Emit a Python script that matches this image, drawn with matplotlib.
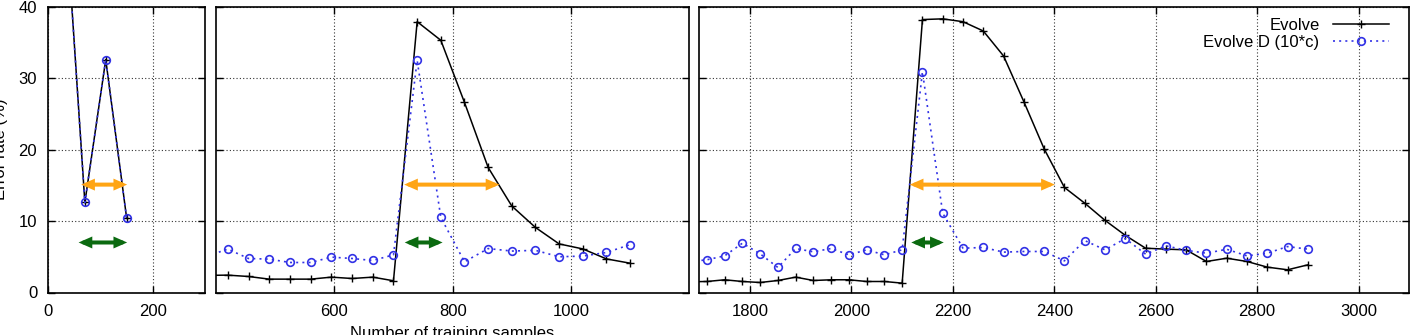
import matplotlib
matplotlib.use("Agg")
import matplotlib.pyplot as plt

plt.rcParams['font.family'] = ['Liberation Sans', 'DejaVu Sans']

# panel 1 (0-300)
x1 = [30, 70, 110, 150]
evolve1 = [56.6, 12.6, 32.6, 10.4]
evolved1 = [56.6, 12.6, 32.6, 10.4]

# panel 2 (400-1200)
x2 = [385, 420, 455, 490, 525, 560, 595, 630, 665, 700,
      740, 780, 820, 860, 900, 940, 980, 1020, 1060, 1100]
evolve2 = [2.4, 2.43, 2.24, 1.87, 1.87, 1.87, 2.15, 1.96, 2.15, 1.64,
           37.9, 35.3, 26.6, 17.5, 12.1, 9.1, 6.8, 6.1, 4.7, 4.1]
evolved2 = [5.1, 6.07, 4.76, 4.67, 4.2, 4.2, 4.95, 4.76, 4.48, 5.27,
            32.5, 10.5, 4.3, 6.15, 5.8, 5.9, 5.0, 5.1, 5.6, 6.7]

# panel 3 (1700-3100)
x3 = [1680, 1715, 1750, 1785, 1820, 1855, 1890, 1925, 1960, 1995, 2030, 2065, 2100,
      2140, 2180, 2220, 2260, 2300, 2340, 2380, 2420, 2460, 2500, 2540, 2580,
      2620, 2660, 2700, 2740, 2780, 2820, 2860, 2900]
evolve3 = [1.5, 1.54, 1.78, 1.54, 1.40, 1.68, 2.15, 1.68, 1.78, 1.78, 1.54, 1.54, 1.31,
           38.2, 38.3, 37.9, 36.6, 33.1, 26.7, 20.1, 14.7, 12.5, 10.1, 8.0, 6.2,
           6.07, 5.97, 4.34, 4.8, 4.34, 3.55, 3.18, 3.87]
evolved3 = [4.3, 4.58, 5.13, 6.9, 5.41, 3.5, 6.16, 5.69, 6.16, 5.27, 5.97, 5.27, 5.97,
            30.9, 11.1, 6.2, 6.3, 5.65, 5.74, 5.74, 4.43, 7.27, 5.97, 7.55, 5.37,
            6.53, 5.9, 5.5, 6.05, 5.13, 5.5, 6.43, 6.07]

# arrows: (start, end) for orange and green per panel
orange = [(63, 151), (718, 879), (2115, 2401)]
green = [(58, 151), (719, 783), (2118, 2182)]
orange_y = 15.1
green_y = 7.0

xlims = [(0, 300), (400, 1200), (1700, 3100)]
xticks = [[0, 200], [600, 800, 1000], [1800, 2000, 2200, 2400, 2600, 2800, 3000]]

fig = plt.figure(figsize=(14.11, 3.35), dpi=100)
W, H = 1411, 335
boxes = [(48.3, 205.0), (216.0, 689.3), (699.3, 1409.3)]
top_px, bot_px = 6.7, 292.5
axes = []
for (l, r) in boxes:
    ax = fig.add_axes([l / W, (H - bot_px) / H, (r - l) / W, (bot_px - top_px) / H])
    axes.append(ax)

blue = '#3232e6'
data = [(x1, evolve1, evolved1), (x2, evolve2, evolved2), (x3, evolve3, evolved3)]
for i, ax in enumerate(axes):
    xs, e, d = data[i]
    ax.plot(xs, e, color='black', lw=1.1, marker='+', ms=6, mew=1.0, label='Evolve')
    ax.plot(xs, d, color=blue, lw=1.2, ls=(0, (1.2, 2.5)), marker='o', ms=5.5,
            mfc='none', mec=blue, mew=1.2, label='Evolve D (10*c)')
    for (a, b), c, yy in [(orange[i], '#ffa514', orange_y), (green[i], '#0b6a10', green_y)]:
        ax.annotate('', xy=(b, yy), xytext=(a, yy),
                    arrowprops=dict(arrowstyle='<|-|>,head_length=0.32,head_width=0.14',
                                    color=c, lw=2.9, mutation_scale=15, joinstyle='miter',
                                    shrinkA=0, shrinkB=0))
    ax.set_xlim(*xlims[i])
    ax.set_ylim(0, 40)
    ax.set_xticks(xticks[i])
    ax.set_yticks([0, 10, 20, 30, 40])
    ax.grid(True, color='#333333', lw=0.8, ls=(0, (1, 2)))
    ax.tick_params(direction='in', length=5, width=1, top=True, right=True,
                   labelsize=12, pad=8)
    if i > 0:
        ax.tick_params(labelleft=False)
    for s in ax.spines.values():
        s.set_linewidth(1.2)

axes[2].legend(loc='upper right', bbox_to_anchor=(0.972, 0.962), frameon=False,
               markerfirst=False, fontsize=12, handlelength=3.4, handletextpad=0.8,
               labelspacing=0.15, borderpad=0, borderaxespad=0)

fig.text(8 / W, 0.5 * ((H - bot_px) + (H - top_px)) / H, 'Error rate (%)',
         rotation=90, ha='right', va='center', fontsize=12)
fig.text(452.6 / W, (H - 326) / H, 'Number of training samples',
         ha='center', va='top', fontsize=12)

fig.savefig('out.png', dpi=100)
